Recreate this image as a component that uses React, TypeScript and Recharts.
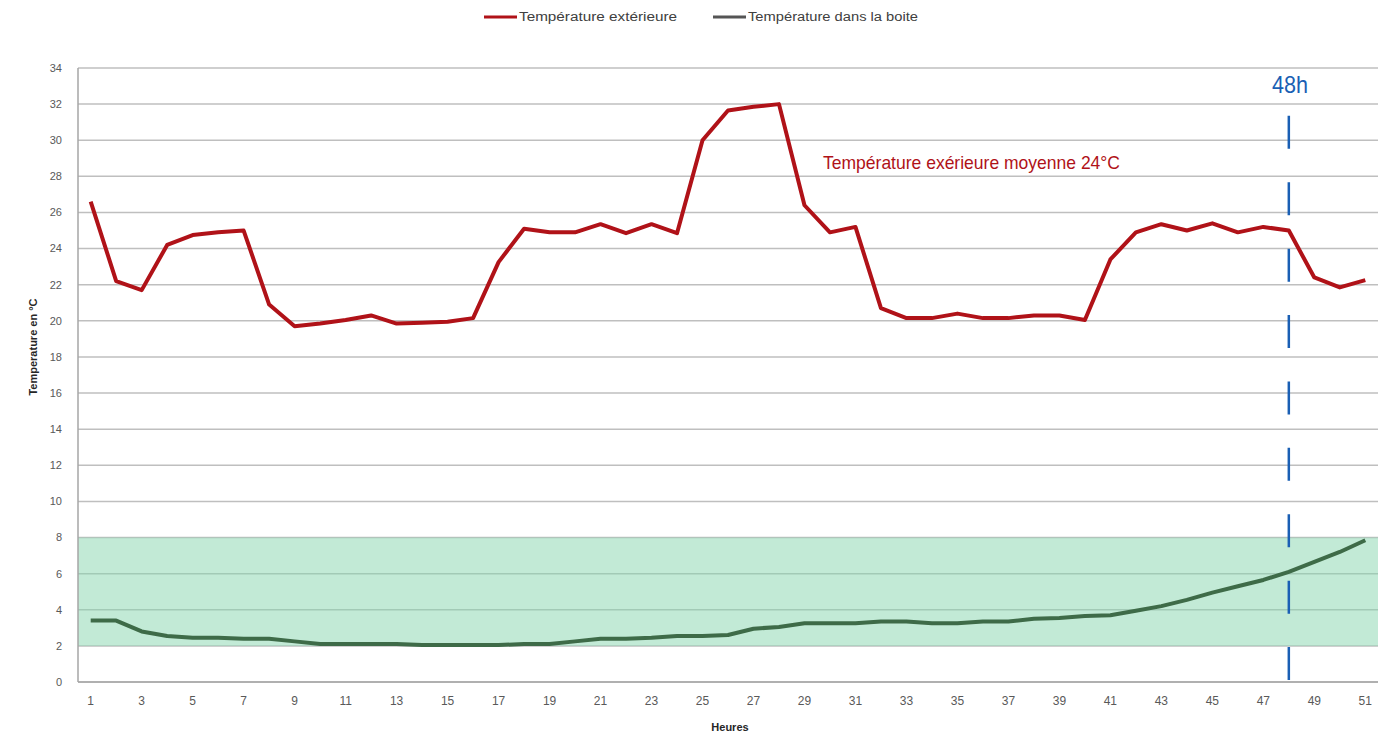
import React from 'react';
import { LineChart, Line, XAxis, YAxis, CartesianGrid, ReferenceArea, ReferenceLine, Customized } from 'recharts';

const hours = [1,2,3,4,5,6,7,8,9,10,11,12,13,14,15,16,17,18,19,20,21,22,23,24,25,26,27,28,29,30,31,32,33,34,35,36,37,38,39,40,41,42,43,44,45,46,47,48,49,50,51];
const exterieure = [26.6,22.2,21.7,24.2,24.75,24.9,25.0,20.9,19.7,19.85,20.05,20.3,19.85,19.9,19.95,20.15,23.25,25.1,24.9,24.9,25.35,24.85,25.35,24.85,30.0,31.65,31.85,32.0,26.4,24.9,25.2,20.7,20.15,20.15,20.4,20.15,20.15,20.3,20.3,20.05,23.4,24.9,25.35,25.0,25.4,24.9,25.2,25.0,22.4,21.85,22.25];
const boite = [3.4,3.4,2.8,2.55,2.45,2.45,2.4,2.4,2.25,2.1,2.1,2.1,2.1,2.05,2.05,2.05,2.05,2.1,2.1,2.25,2.4,2.4,2.45,2.55,2.55,2.6,2.95,3.05,3.25,3.25,3.25,3.35,3.35,3.25,3.25,3.35,3.35,3.5,3.55,3.65,3.7,3.95,4.2,4.55,4.95,5.3,5.65,6.1,6.65,7.2,7.85];
const yTicks = [0,2,4,6,8,10,12,14,16,18,20,22,24,26,28,30,32,34];
const legendLabels = ['Température extérieure', 'Température dans la boite'];

const data = hours.map((h, i) => ({ hour: h, ext: exterieure[i], box: boite[i] }));

const RED = '#b01218';
const GREEN = '#3e6b48';
const BLUE = '#1a5fb4';
const PAD = 12.7;
const NARROW = '"Liberation Sans Narrow", "Liberation Sans", Arial, sans-serif';
const TICKFONT = '"Liberation Sans", Arial, sans-serif';

const Overlay = () => (
  <g>
    <line x1={484} y1={17} x2={517} y2={17} stroke={RED} strokeWidth={3} />
    <text x={519} y={21} fontFamily={TICKFONT} fontSize={12} fill="#404040" textLength={158} lengthAdjust="spacingAndGlyphs">{legendLabels[0]}</text>
    <line x1={713} y1={17} x2={746} y2={17} stroke="#555555" strokeWidth={3} />
    <text x={748} y={21} fontFamily={TICKFONT} fontSize={12} fill="#404040" textLength={170} lengthAdjust="spacingAndGlyphs">{legendLabels[1]}</text>
    <text x={730} y={731} textAnchor="middle" fontFamily={TICKFONT} fontSize={11} fontWeight="bold" fill="#262626">Heures</text>
    <text x={37} y={347} transform="rotate(-90 37 347)" textAnchor="middle" fontFamily={TICKFONT} fontSize={11} fontWeight="bold" fill="#262626">Temperature en °C</text>
    <text x={823} y={169} fontFamily={NARROW} fontSize={19} fill={RED} textLength={297} lengthAdjust="spacingAndGlyphs">Température exérieure moyenne 24°C</text>
    <text x={1272} y={93} fontFamily={NARROW} fontSize={24} fill={BLUE} textLength={36} lengthAdjust="spacingAndGlyphs">48h</text>
  </g>
);

const BandShape = (p: any) => (
  <rect x={p.x - PAD} y={p.y} width={p.width + 2 * PAD} height={p.height} fill="#85d6ad" fillOpacity={0.5} />
);

export default function App() {
  return (
    <div style={{ position: 'absolute', left: 0, top: 0, background: '#fff' }}>
      <LineChart width={1388} height={735} data={data} margin={{ top: 68, right: 10, bottom: 0, left: 0 }}>
        <CartesianGrid vertical={false} stroke="#bfbfbf" strokeWidth={1.5} />
        <ReferenceArea y1={2} y2={8} ifOverflow="visible" shape={BandShape} />
        <XAxis
          dataKey="hour"
          type="category"
          interval={1}
          height={53}
          padding={{ left: PAD, right: PAD }}
          tickLine={false}
          tickSize={0}
          tickMargin={14}
          axisLine={{ stroke: '#a6a6a6', strokeWidth: 1.5 }}
          tick={{ fontFamily: TICKFONT, fontSize: 12, fill: '#595959' }}
        />
        <YAxis
          domain={[0, 34]}
          ticks={yTicks}
          width={78}
          tickLine={false}
          tickSize={0}
          tickMargin={16}
          axisLine={{ stroke: '#a6a6a6', strokeWidth: 1.5 }}
          tick={{ fontFamily: TICKFONT, fontSize: 11, fill: '#595959' }}
        />
        <ReferenceLine
          segment={[{ x: 48, y: 31.35 }, { x: 48, y: 0 }]}
          stroke={BLUE}
          strokeWidth={2.5}
          strokeDasharray="33 33.4"
          ifOverflow="visible"
        />
        <Line type="linear" dataKey="ext" stroke={RED} strokeWidth={4} dot={false} strokeLinejoin="round" isAnimationActive={false} />
        <Line type="linear" dataKey="box" stroke={GREEN} strokeWidth={4} dot={false} strokeLinejoin="round" isAnimationActive={false} />
        <Customized component={Overlay} />
      </LineChart>
    </div>
  );
}
